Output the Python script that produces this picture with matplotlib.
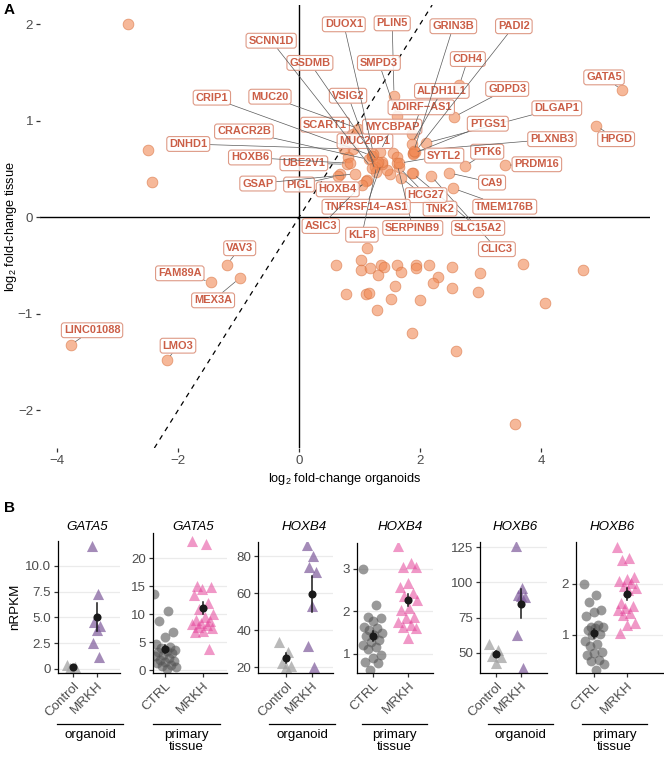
import numpy as np
import matplotlib
matplotlib.use('Agg')
import matplotlib.pyplot as plt

plt.rcParams['font.family'] = ['Liberation Sans', 'DejaVu Sans']
plt.rcParams['mathtext.default'] = 'regular'

W, H = 664, 759

# ---------------- panel A: log2 fold changes ----------------
lab_genes = ['GATA5', 'HPGD', 'PRDM16', 'PTK6', 'CA9', 'TMEM176B', 'CLIC3', 'SLC15A2',
             'TNK2', 'HCG27', 'SERPINB9', 'TNFRSF14−AS1', 'KLF8', 'ASIC3', 'HOXB4', 'PIGL',
             'GSAP', 'UBE2V1', 'HOXB6', 'DNHD1', 'CRACR2B', 'SCART1', 'CRIP1', 'MUC20',
             'MUC20P1', 'MYCBPAP', 'VSIG2', 'GSDMB', 'SCNN1D', 'DUOX1', 'PLIN5', 'SMPD3',
             'ADIRF−AS1', 'ALDH1L1', 'CDH4', 'GRIN3B', 'PADI2', 'GDPD3', 'DLGAP1', 'PTGS1',
             'PLXNB3', 'SYTL2', 'VAV3', 'FAM89A', 'MEX3A', 'LINC01088', 'LMO3']
lab_x = [5.34, 4.91, 3.40, 2.74, 2.48, 2.55, 2.18, 1.87,
         1.69, 1.65, 1.62, 1.37, 1.29, 1.11, 1.04, 0.65,
         0.93, 0.79, 0.84, 0.75, 1.15, 0.89, 1.20, 0.98,
         1.26, 1.34, 1.27, 1.31, 1.20, 1.23, 1.57, 1.62,
         1.86, 1.86, 2.65, 1.89, 1.92, 2.56, 2.10, 1.88,
         1.90, 1.65, -1.19, -1.46, -0.98, -3.77, -2.18]
lab_y = [1.32, 0.95, 0.54, 0.53, 0.46, 0.30, 0.43, 0.46,
         0.41, 0.52, 0.56, 0.57, 0.55, 0.38, 0.33, 0.43,
         0.45, 0.55, 0.56, 0.71, 0.60, 0.86, 0.64, 0.92,
         0.52, 0.68, 0.47, 0.57, 0.51, 0.66, 1.26, 1.05,
         0.86, 0.76, 1.37, 0.67, 0.68, 1.04, 0.77, 0.66,
         0.69, 0.56, -0.49, -0.67, -0.63, -1.32, -1.48]

other_x = [-2.83, -2.50, -2.43, 1.55, 1.50, 0.81, 1.12, 1.45, 0.68, 1.62, 1.37, 1.20,
           0.89, 1.88,
           1.12, 0.61, 1.02, 1.02, 1.17, 1.36, 1.41, 1.30, 1.62, 1.69, 1.93, 1.93, 2.15,
           2.53, 2.99, 2.29, 2.22, 2.53, 2.96, 1.59, 0.77, 1.10, 1.15, 1.52, 2.00, 1.29,
           1.86, 3.70, 4.70, 4.07, 2.59, 3.57]
other_y = [2.00, 0.70, 0.37, 0.67, 0.45, 0.62, 0.39, 0.49, 0.45, 0.63, 0.55, 0.64,
           0.71, 0.46,
           -0.32, -0.49, -0.44, -0.55, -0.53, -0.49, -0.51, -0.60, -0.49, -0.57, -0.49, -0.52, -0.49,
           -0.51, -0.58, -0.62, -0.68, -0.73, -0.77, -0.71, -0.79, -0.79, -0.78, -0.85, -0.86, -0.96,
           -1.20, -0.48, -0.55, -0.89, -1.39, -2.14]

# label placement (layout), data coordinates
lab_pos = {
    'GATA5': (5.04, 1.45), 'HPGD': (5.24, 0.81), 'PRDM16': (3.93, 0.55), 'PTK6': (3.11, 0.68),
    'CA9': (3.19, 0.36), 'TMEM176B': (3.40, 0.11), 'CLIC3': (3.27, -0.33), 'SLC15A2': (2.96, -0.11),
    'TNK2': (2.33, 0.09), 'HCG27': (2.10, 0.23), 'SERPINB9': (1.88, -0.11),
    'TNFRSF14−AS1': (1.11, 0.11), 'KLF8': (1.04, -0.18), 'ASIC3': (0.36, -0.09),
    'HOXB4': (0.64, 0.29), 'PIGL': (0.0, 0.34), 'GSAP': (-0.68, 0.35), 'UBE2V1': (0.08, 0.56),
    'HOXB6': (-0.81, 0.62), 'DNHD1': (-1.83, 0.76), 'CRACR2B': (-0.91, 0.89),
    'SCART1': (0.43, 0.96), 'CRIP1': (-1.44, 1.24), 'MUC20': (-0.48, 1.25),
    'MUC20P1': (1.09, 0.79), 'MYCBPAP': (1.54, 0.94), 'VSIG2': (0.81, 1.26),
    'GSDMB': (0.18, 1.60), 'SCNN1D': (-0.46, 1.83), 'DUOX1': (0.74, 2.00),
    'PLIN5': (1.54, 2.01), 'SMPD3': (1.32, 1.60), 'ADIRF−AS1': (2.02, 1.14),
    'ALDH1L1': (2.36, 1.31), 'CDH4': (2.79, 1.64), 'GRIN3B': (2.55, 1.98),
    'PADI2': (3.55, 1.98), 'GDPD3': (3.44, 1.33), 'DLGAP1': (4.26, 1.13),
    'PTGS1': (3.12, 0.97), 'PLXNB3': (4.18, 0.81), 'SYTL2': (2.40, 0.64),
    'VAV3': (-0.98, -0.32), 'FAM89A': (-1.97, -0.58), 'MEX3A': (-1.42, -0.86),
    'LINC01088': (-3.42, -1.17), 'LMO3': (-2.00, -1.33),
}

# ---------------- panel B: nRPKM per gene ----------------
panel_genes = ['GATA5', 'GATA5', 'HOXB4', 'HOXB4', 'HOXB6', 'HOXB6']
panel_source = ['organoid', 'primary\ntissue', 'organoid', 'primary\ntissue',
                'organoid', 'primary\ntissue']
ctrl_vals = [
    [0.35, 0.15, 0.05],
    [13.6, 10.5, 8.7, 6.8, 5.9, 4.7, 4.2, 3.9, 3.6, 3.4, 3.2, 3.0, 2.8, 2.5, 2.2,
     1.8, 1.7, 1.5, 1.2, 0.9, 0.8, 0.5, 0.2],
    [33.5, 28.0, 22.0, 20.5, 20.0],
    [3.0, 2.15, 1.86, 1.84, 1.78, 1.64, 1.6, 1.56, 1.5, 1.45, 1.41, 1.33, 1.29, 1.21,
     1.16, 1.11, 0.98, 0.9, 0.82, 0.78, 0.62],
    [56.6, 52.0, 48.0, 47.0, 43.0],
    [2.0, 1.78, 1.65, 1.49, 1.44, 1.37, 1.2, 1.16, 1.15, 1.13, 1.1, 1.02, 0.99, 0.87,
     0.82, 0.77, 0.67, 0.65, 0.61, 0.51, 0.48, 0.43, 0.31],
]
mrkh_vals = [
    [11.9, 7.3, 4.5, 4.2, 3.8, 2.5, 1.2],
    [23.0, 22.5, 15.0, 14.8, 14.5, 13.5, 12.0, 11.0, 10.0, 9.5, 9.0, 8.8, 8.5, 8.3,
     8.0, 7.8, 7.5, 7.0, 6.8, 3.8],
    [86.0, 80.0, 74.0, 71.4, 53.0, 31.4, 20.0],
    [3.53, 3.13, 3.05, 3.04, 2.66, 2.58, 2.43, 2.36, 2.27, 2.07, 2.04, 1.86, 1.84,
     1.76, 1.68, 1.64, 1.6, 1.37],
    [125.5, 96.0, 91.0, 89.6, 90.0, 63.0, 39.0],
    [2.73, 2.5, 2.47, 2.13, 2.09, 2.05, 2.01, 1.96, 1.92, 1.88, 1.62, 1.56, 1.52,
     1.49, 1.42, 1.39, 1.23, 1.2, 1.03],
]
panel_yticks = [[0, 2.5, 5.0, 7.5, 10.0], [0, 5, 10, 15, 20], [20, 40, 60, 80],
                [1, 2, 3], [50, 75, 100, 125], [1, 2]]

# layout in pixels: left, right, top, bottom, title x, bracket l/r, xlim, ylim
b_layout = [
    (58, 120, 541, 673, 87, 57, 123, (0.375, 2.96), (-0.4, 12.4)),
    (153, 227, 533, 673, 193, 153, 220, (0.68, 2.63), (-0.5, 24.5)),
    (258, 333, 542, 673, 304, 269, 335, (-0.08, 2.81), (16.8, 87.6)),
    (357, 433, 543, 673, 400, 362, 427, (0.54, 2.71), (0.55, 3.61)),
    (480, 547, 542, 673, 515, 488, 553, (0.36, 3.04), (35.8, 128.6)),
    (576, 663, 542, 673, 612, 582, 647, (0.45, 3.09), (0.25, 2.82)),
]

FS = 9.6
fig = plt.figure(figsize=(W / 100, H / 100), dpi=100)


def px_axes(l, r, t, b):
    return fig.add_axes([l / W, 1 - b / H, (r - l) / W, (b - t) / H])


grey_txt = '#4D4D4D'

# ---- A ----
ax = px_axes(40, 650, 5, 448)
ax.set_xlim(-4.28, 5.80)
ax.set_ylim(-2.39, 2.20)
for s in ax.spines.values():
    s.set_visible(False)
ax.axhline(0, color='black', lw=1, zorder=1)
ax.axvline(0, color='black', lw=1, zorder=1)
ax.axline((0, 0), slope=1, ls=(0, (4, 4)), color='black', lw=0.9, zorder=1)

all_x = np.array(other_x + lab_x)
all_y = np.array(other_y + lab_y)
ax.scatter(all_x, all_y, s=60, c='#F18A55', alpha=0.6, edgecolors='#D8703E',
           linewidths=0.6, zorder=2)

for g, gx, gy in zip(lab_genes, lab_x, lab_y):
    tx, ty = lab_pos[g]
    ax.annotate(g, xy=(gx, gy), xytext=(tx, ty), ha='center', va='center',
                fontsize=7.9, fontweight='bold', color='#CB5E46', zorder=4,
                bbox=dict(boxstyle='round,pad=0.22,rounding_size=0.25',
                          fc=(1, 1, 1, 0.85), ec='#DE9A86', lw=0.8),
                arrowprops=dict(arrowstyle='-', color='#5A5A5A', lw=0.5,
                                shrinkA=0, shrinkB=4))

ax.set_xticks([-4, -2, 0, 2, 4])
ax.set_yticks([-2, -1, 0, 1, 2])
ax.tick_params(length=3, width=0.9, color='#333333', labelsize=FS,
               labelcolor=grey_txt, pad=2)
ax.set_xlabel('log$_2$ fold-change organoids', fontsize=9.2, labelpad=3)
ax.set_ylabel('log$_2$ fold-change tissue', fontsize=9.2)
ax.yaxis.set_label_coords(-0.034, 0.5)

fig.text(4 / W, 1 - 10 / H, 'A', fontsize=11, fontweight='bold', va='center')
fig.text(4 / W, 1 - 508 / H, 'B', fontsize=11, fontweight='bold', va='center')


def jitter(n, width=0.27):
    return ((np.arange(n) * 0.6180339887) % 1 - 0.5) * 2 * width


# ---- B ----
for i in range(6):
    l, r, t, b, tx, bl, br, xl, yl = b_layout[i]
    axb = px_axes(l, r, t, b)
    organoid = panel_source[i] == 'organoid'
    cv = np.array(ctrl_vals[i])
    mv = np.array(mrkh_vals[i])
    if organoid:
        axb.scatter(1 + jitter(len(cv)), cv, marker='^', s=64, c='#A3A3A3',
                    alpha=0.75, linewidths=0, zorder=2)
        axb.scatter(2 + jitter(len(mv), 0.2), mv, marker='^', s=64, c='#7E5A9B',
                    alpha=0.7, linewidths=0, zorder=2)
        labels = ['Control', 'MRKH']
    else:
        axb.scatter(1 + jitter(len(cv), 0.3), cv, marker='o', s=50, c='#555555',
                    alpha=0.6, linewidths=0, zorder=2)
        axb.scatter(2 + jitter(len(mv), 0.3), mv, marker='^', s=64, c='#E4449A',
                    alpha=0.55, linewidths=0, zorder=2)
        labels = ['CTRL', 'MRKH']
    for k, v in ((1, cv), (2, mv)):
        m = v.mean()
        se = v.std(ddof=1) / np.sqrt(len(v))
        axb.plot([k, k], [m - se, m + se], color='#1A1A1A', lw=1.1, zorder=3)
        axb.scatter([k], [m], s=34, c='#1A1A1A', zorder=4, linewidths=0)
    axb.set_xlim(*xl)
    axb.set_ylim(*yl)
    axb.set_xticks([1, 2])
    axb.set_xticklabels(labels, rotation=45, ha='right', rotation_mode='anchor')
    yt = panel_yticks[i]
    axb.set_yticks(yt)
    if i == 0:
        axb.set_yticklabels(['0', '2.5', '5.0', '7.5', '10.0'])
    axb.grid(axis='y', color='#EBEBEB', lw=0.9, zorder=0)
    axb.set_axisbelow(True)
    for s in ('top', 'right'):
        axb.spines[s].set_visible(False)
    for s in ('left', 'bottom'):
        axb.spines[s].set_color('black')
        axb.spines[s].set_linewidth(0.9)
    axb.tick_params(length=3, width=0.9, color='#333333', labelsize=FS,
                    labelcolor=grey_txt, pad=2)
    if i == 0:
        axb.set_ylabel('nRPKM', fontsize=FS, labelpad=3)
    fig.text(tx / W, 1 - 527 / H, panel_genes[i], fontsize=FS, style='italic',
             ha='center', va='center')
    fig.add_artist(plt.Line2D([bl / W, br / W], [1 - 724 / H, 1 - 724 / H],
                              color='black', lw=0.9))
    fig.text((bl + br) / 2 / W, 1 - 729 / H, panel_source[i], fontsize=FS,
             ha='center', va='top', linespacing=1.0)

fig.savefig('out.png', dpi=100)
